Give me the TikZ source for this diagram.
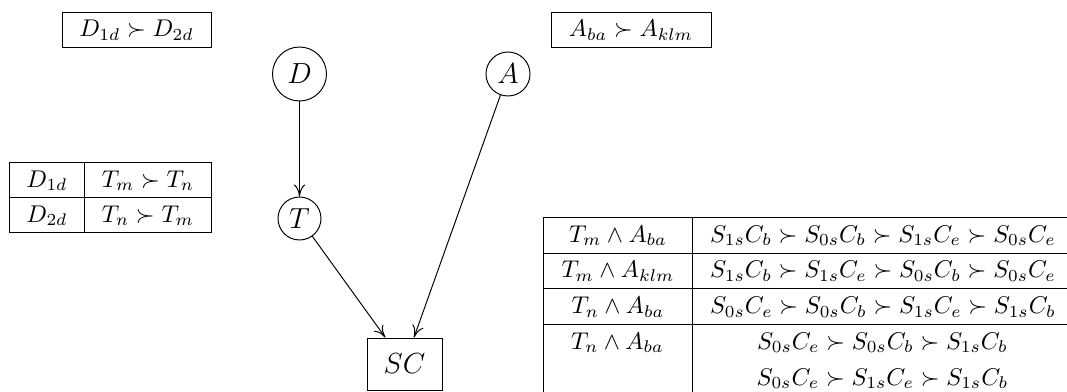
\documentclass[tikz,border=0pt]{standalone}
\usepackage{amsmath}
\usetikzlibrary{arrows.meta}
\newcommand\pxu{0.413pt}
\tikzset{
  bx/.style 2 args={draw, rectangle, inner sep=0pt, line width=0.4pt,
    minimum width=#1*\pxu, minimum height=#2*\pxu,
    text height=10.1pt, text depth=4.3pt},
  txt/.style={anchor=base, inner sep=0pt},
  circ/.style={draw, circle, inner sep=0pt, line width=0.4pt, minimum size=#1*\pxu, font=\large},
  arr/.style={-{To[length=5pt,width=4.8pt]}, line width=0.4pt},
}
\begin{document}
\begin{tikzpicture}[x=\pxu, y=-\pxu]
\useasboundingbox (0,0) rectangle (1067,391);
\clip (0,0) rectangle (1067,391);

% top boxes
\node[bx={149}{35}] (pd) at (136.5,29.5) {$D_{1d} \succ D_{2d}$};
\node[bx={160}{35}] (pa) at (631,29.5) {$A_{ba} \succ A_{klm}$};

% left table
\node[bx={75}{35}, anchor=north west] (l11) at (9,162) {$D_{1d}$};
\node[bx={127}{35}, anchor=north west] (l12) at (84,162) {$T_m \succ T_n$};
\node[bx={75}{35}, anchor=north west] (l21) at (9,197) {$D_{2d}$};
\node[bx={127}{35}, anchor=north west] (l22) at (84,197) {$T_n \succ T_m$};

% graph
\node[circ=54] (D) at (299.5,74) {$D$};
\node[circ=44] (A) at (508,74) {$A$};
\node[circ=43] (T) at (299.5,218.5) {$T$};
\node[draw, rectangle, inner sep=0pt, line width=0.4pt, font=\large,
      minimum width=75*\pxu, minimum height=52*\pxu] (SC) at (404.5,364) {$SC$};
\draw[arr] (D) -- (T);
\draw[arr] (T) -- (SC);
\draw[arr] (A) -- (SC);

% big table
\node[bx={149}{35.5}, anchor=north west] (r11) at (543,217) {$T_m \wedge A_{ba}$};
\node[bx={381}{35.5}, anchor=north west] (r12) at (692,217)
  {$S_{1s}C_b \succ S_{0s}C_b \succ S_{1s}C_e \succ S_{0s}C_e$};
\node[bx={149}{35.5}, anchor=north west] (r21) at (543,252.5) {$T_m \wedge A_{klm}$};
\node[bx={381}{35.5}, anchor=north west] (r22) at (692,252.5)
  {$S_{1s}C_b \succ S_{1s}C_e \succ S_{0s}C_b \succ S_{0s}C_e$};
\node[bx={149}{36}, anchor=north west] (r31) at (543,288) {$T_n \wedge A_{ba}$};
\node[bx={381}{36}, anchor=north west] (r32) at (692,288)
  {$S_{0s}C_e \succ S_{0s}C_b \succ S_{1s}C_e \succ S_{1s}C_b$};
\node[bx={149}{72}, anchor=north west] (r41) at (543,324) {};
\node[bx={381}{72}, anchor=north west] (r42) at (692,324) {};
\node[txt] (t41) at (617.5,349) {$T_n \wedge A_{ba}$};
\node[txt] (t42a) at (882.5,349) {$S_{0s}C_e \succ S_{0s}C_b \succ S_{1s}C_b$};
\node[txt] (t42b) at (882.5,385) {$S_{0s}C_e \succ S_{1s}C_e \succ S_{1s}C_b$};
\end{tikzpicture}
\end{document}
